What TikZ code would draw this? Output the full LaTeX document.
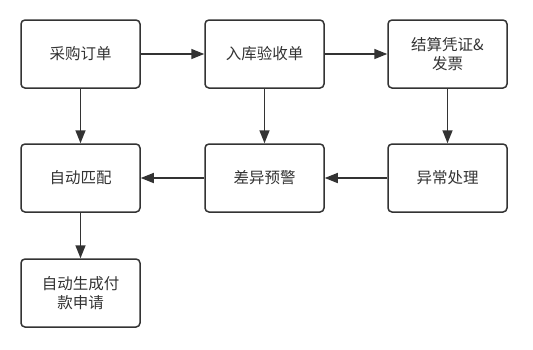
\documentclass[tikz,border=0pt]{standalone}
\usepackage{fontspec}
\setmainfont{Noto Sans CJK SC}
\usetikzlibrary{arrows.meta}
\definecolor{ln}{HTML}{333333}
\definecolor{tx}{HTML}{333333}
\begin{document}
\begin{tikzpicture}[x=1pt,y=-1pt,
  box/.style={draw=ln,line width=1.5pt,rounded corners=4pt,minimum width=119pt,minimum height=68pt,
    text=tx,align=center,font=\fontsize{15.5}{19}\selectfont,inner sep=0pt,fill=white},
  arr/.style={draw=ln,line width=1.5pt,-{Triangle[length=13pt,width=10pt]}}]
\useasboundingbox[fill=white] (0,0) rectangle (533,349);
\node[box] (a) at (80.5,54) {采购订单};
\node[box] (b) at (264.5,54) {入库验收单};
\node[box] (c) at (447.5,54) {结算凭证\&\\发票};
\node[box] (d) at (80.5,178) {自动匹配};
\node[box] (e) at (264.5,178) {差异预警};
\node[box] (f) at (447.5,178) {异常处理};
\node[box] (g) at (80.5,293) {自动生成付\\款申请};
\draw[arr] (a) -- (b);
\draw[arr] (b) -- (c);
\draw[arr] (a) -- (d);
\draw[arr] (b) -- (e);
\draw[arr] (c) -- (f);
\draw[arr] (f) -- (e);
\draw[arr] (e) -- (d);
\draw[arr] (d) -- (g);
\end{tikzpicture}
\end{document}
